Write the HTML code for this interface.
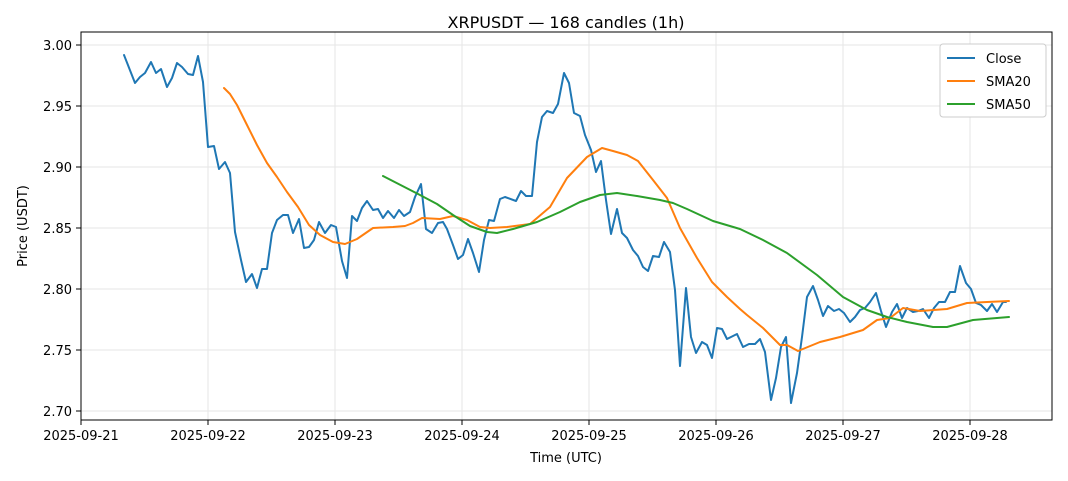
<!DOCTYPE html>
<html><head><meta charset="utf-8"><style>
body{margin:0;background:#fff}
svg{display:block;font-family:"DejaVu Sans","Liberation Sans",sans-serif}
</style></head><body>
<svg width="1068" height="481" xmlns="http://www.w3.org/2000/svg">
<rect width="1068" height="481" fill="#fff"/>
<g stroke="#e6e6e6" stroke-width="1">
<line x1="81" y1="45" x2="1052" y2="45"/><line x1="81" y1="106" x2="1052" y2="106"/><line x1="81" y1="167" x2="1052" y2="167"/><line x1="81" y1="228" x2="1052" y2="228"/><line x1="81" y1="289" x2="1052" y2="289"/><line x1="81" y1="350" x2="1052" y2="350"/><line x1="81" y1="411" x2="1052" y2="411"/>
<line x1="81" y1="32" x2="81" y2="420"/><line x1="208" y1="32" x2="208" y2="420"/><line x1="335" y1="32" x2="335" y2="420"/><line x1="462" y1="32" x2="462" y2="420"/><line x1="589" y1="32" x2="589" y2="420"/><line x1="716" y1="32" x2="716" y2="420"/><line x1="843" y1="32" x2="843" y2="420"/><line x1="970" y1="32" x2="970" y2="420"/>
</g>
<g fill="none" stroke-width="2" stroke-linejoin="round" stroke-linecap="round">
<polyline stroke="#1f77b4" points="124,55 135,83 140,77 145,73 151,62 156,73 161,69 167,87 172,78 177,63 182,67 188,74 193,75 198,56 203,82 208,147 214,146 219,169 225,162 230,173 235,232 241,260 246,282 252,274 257,288 262,269 267,269 272,233 277,220 283,215 288,215 293,233 299,219 304,248 309,247 314,240 319,222 325,233 331,225 336,227 342,261 347,278 352,216 357,221 362,208 367,201 373,210 378,209 383,218 388,211 394,218 399,210 404,216 410,212 415,197 421,184 426,229 432,233 438,223 443,222 447,229 453,245 458,259 463,255 468,239 473,253 479,272 484,240 489,220 494,221 500,199 505,197 516,201 521,191 526,196 532,196 537,142 542,117 547,111 553,113 558,104 564,73 569,83 574,113 580,116 585,135 591,150 596,172 601,161 606,200 611,234 617,209 622,233 627,238 633,250 638,256 643,267 648,271 653,256 659,257 664,242 670,252 675,290 680,366 686,288 691,337 696,353 702,342 707,345 712,358 717,328 722,329 727,339 737,334 743,347 749,344 755,344 760,339 765,352 771,400 776,378 781,347 786,337 791,403 797,373 802,337 807,297 813,286 818,300 823,316 828,306 834,311 839,309 844,313 850,322 855,317 860,310 865,308 870,302 876,293 881,311 886,327 892,312 897,304 902,318 907,308 913,312 918,311 923,309 929,318 934,308 939,302 945,302 950,292 955,292 960,266 966,283 971,289 976,303 981,305 987,311 992,304 997,312 1003,302 1006,302"/>
<polyline stroke="#ff7f0e" points="224,88 230,94 237,105 247,125 257,145 267,163 277,177 287,192 298,207 309,225 320,235 333,242 345,244 357,239 373,228 393,227 405,226 413,223 422,218 440,219 453,216 467,220 480,227 490,228 507,227 530,224 550,207 567,178 587,157 602,148 613,151 627,155 638,161 653,180 667,198 680,228 697,258 712,282 727,297 740,309 747,315 763,328 780,345 787,345 798,351 820,342 840,337 863,330 877,320 890,318 903,308 920,311 947,309 967,303 987,302 1009,301"/>
<polyline stroke="#2ca02c" points="383,176 420,195 437,204 453,215 470,226 487,232 497,233 513,229 537,222 560,212 580,202 600,195 617,193 637,196 660,200 673,203 687,209 713,221 740,229 763,240 787,253 817,275 843,297 867,310 887,317 907,322 933,327 947,327 973,320 1009,317"/>
</g>
<rect x="81" y="32" width="971" height="388" fill="none" stroke="#000" stroke-width="1"/>
<g stroke="#000"><line x1="76" y1="45" x2="81" y2="45"/><line x1="76" y1="106" x2="81" y2="106"/><line x1="76" y1="167" x2="81" y2="167"/><line x1="76" y1="228" x2="81" y2="228"/><line x1="76" y1="289" x2="81" y2="289"/><line x1="76" y1="350" x2="81" y2="350"/><line x1="76" y1="411" x2="81" y2="411"/>
<line x1="81" y1="420" x2="81" y2="425"/><line x1="208" y1="420" x2="208" y2="425"/><line x1="335" y1="420" x2="335" y2="425"/><line x1="462" y1="420" x2="462" y2="425"/><line x1="589" y1="420" x2="589" y2="425"/><line x1="716" y1="420" x2="716" y2="425"/><line x1="843" y1="420" x2="843" y2="425"/><line x1="970" y1="420" x2="970" y2="425"/></g>
<g font-size="13" fill="#000" text-anchor="end"><text x="72" y="50">3.00</text><text x="72" y="111">2.95</text><text x="72" y="172">2.90</text><text x="72" y="233">2.85</text><text x="72" y="294">2.80</text><text x="72" y="355">2.75</text><text x="72" y="416">2.70</text></g>
<g font-size="13" fill="#000" text-anchor="middle"><text x="81" y="440">2025-09-21</text><text x="208" y="440">2025-09-22</text><text x="335" y="440">2025-09-23</text><text x="462" y="440">2025-09-24</text><text x="589" y="440">2025-09-25</text><text x="716" y="440">2025-09-26</text><text x="843" y="440">2025-09-27</text><text x="970" y="440">2025-09-28</text>
<text x="566" y="462">Time (UTC)</text><text x="566" y="28" font-size="16">XRPUSDT — 168 candles (1h)</text>
<text x="27" y="226" transform="rotate(-90 27 226)">Price (USDT)</text></g>
<rect x="940" y="44" width="106" height="73" rx="3" fill="#fff" stroke="#ccc"/>
<g stroke-width="2"><line x1="947" y1="58" x2="975" y2="58" stroke="#1f77b4"/><line x1="947" y1="81" x2="975" y2="81" stroke="#ff7f0e"/><line x1="947" y1="104" x2="975" y2="104" stroke="#2ca02c"/></g>
<g font-size="13" fill="#000"><text x="986" y="63">Close</text><text x="986" y="86">SMA20</text><text x="986" y="109">SMA50</text></g>
</svg>
</body></html>
